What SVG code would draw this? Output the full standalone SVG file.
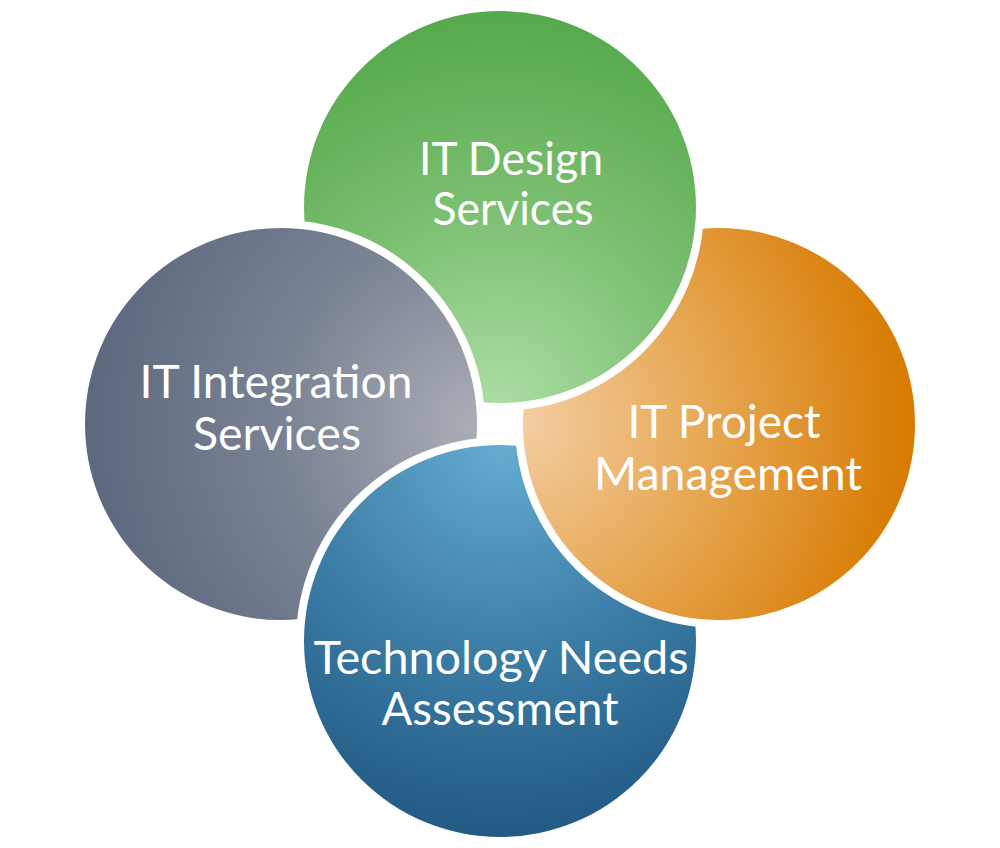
<svg xmlns="http://www.w3.org/2000/svg" width="1000" height="848" viewBox="0 0 1000 848">
  <style>
    .lbl { font-family: Lato, "Liberation Sans", sans-serif; font-size: 46px; fill: #ffffff; text-anchor: middle; }
  </style>
  <defs>
    <radialGradient id="gGreen" cx="0.5" cy="1" fx="0.5" fy="1" r="1">
      <stop offset="0" stop-color="#ABDDA3"/>
      <stop offset="0.5" stop-color="#7CBF72"/>
      <stop offset="1" stop-color="#55A94B"/>
    </radialGradient>
    <radialGradient id="gOrange" cx="0" cy="0.5" fx="0" fy="0.5" r="1">
      <stop offset="0" stop-color="#F3CEA2"/>
      <stop offset="0.5" stop-color="#E6A54F"/>
      <stop offset="1" stop-color="#D77A00"/>
    </radialGradient>
    <radialGradient id="gBlue" cx="0.5" cy="0" fx="0.5" fy="0" r="1">
      <stop offset="0" stop-color="#66ADD2"/>
      <stop offset="0.5" stop-color="#3D7FA8"/>
      <stop offset="1" stop-color="#225A84"/>
    </radialGradient>
    <radialGradient id="gGray" cx="1" cy="0.5" fx="1" fy="0.5" r="1">
      <stop offset="0" stop-color="#AAAEB6"/>
      <stop offset="0.5" stop-color="#7A8394"/>
      <stop offset="1" stop-color="#5C687E"/>
    </radialGradient>
    <mask id="mGreen" maskUnits="userSpaceOnUse" x="0" y="0" width="1000" height="848">
      <rect x="0" y="0" width="1000" height="848" fill="#fff"/>
      <circle cx="281" cy="424" r="204" fill="#000"/>
    </mask>
    <mask id="mOrange" maskUnits="userSpaceOnUse" x="0" y="0" width="1000" height="848">
      <rect x="0" y="0" width="1000" height="848" fill="#fff"/>
      <circle cx="500" cy="207" r="204" fill="#000"/>
    </mask>
    <mask id="mBlue" maskUnits="userSpaceOnUse" x="0" y="0" width="1000" height="848">
      <rect x="0" y="0" width="1000" height="848" fill="#fff"/>
      <circle cx="719" cy="424" r="204" fill="#000"/>
    </mask>
    <mask id="mGray" maskUnits="userSpaceOnUse" x="0" y="0" width="1000" height="848">
      <rect x="0" y="0" width="1000" height="848" fill="#fff"/>
      <circle cx="500" cy="641" r="204" fill="#000"/>
    </mask>
  </defs>
  <rect x="0" y="0" width="1000" height="848" fill="#ffffff"/>
  <g id="connectors"></g>
  <g id="node-design">
    <circle cx="500" cy="207" r="196" fill="url(#gGreen)" mask="url(#mGreen)"/>
    <text class="lbl" x="511" y="175" textLength="184" lengthAdjust="spacingAndGlyphs">IT Design</text>
    <text class="lbl" x="513" y="225" textLength="161" lengthAdjust="spacingAndGlyphs">Services</text>
  </g>
  <g id="node-project">
    <circle cx="719" cy="424" r="196" fill="url(#gOrange)" mask="url(#mOrange)"/>
    <text class="lbl" x="724" y="438" textLength="193" lengthAdjust="spacingAndGlyphs">IT Project</text>
    <text class="lbl" x="728" y="490" textLength="268" lengthAdjust="spacingAndGlyphs">Management</text>
  </g>
  <g id="node-assessment">
    <circle cx="500" cy="641" r="196" fill="url(#gBlue)" mask="url(#mBlue)"/>
    <text class="lbl" x="501" y="674" textLength="375" lengthAdjust="spacingAndGlyphs">Technology Needs</text>
    <text class="lbl" x="500" y="725" textLength="237" lengthAdjust="spacingAndGlyphs">Assessment</text>
  </g>
  <g id="node-integration">
    <circle cx="281" cy="424" r="196" fill="url(#gGray)" mask="url(#mGray)"/>
    <text class="lbl" x="276" y="398" textLength="273" lengthAdjust="spacingAndGlyphs">IT Integration</text>
    <text class="lbl" x="277" y="450" textLength="168" lengthAdjust="spacingAndGlyphs">Services</text>
  </g>
</svg>
